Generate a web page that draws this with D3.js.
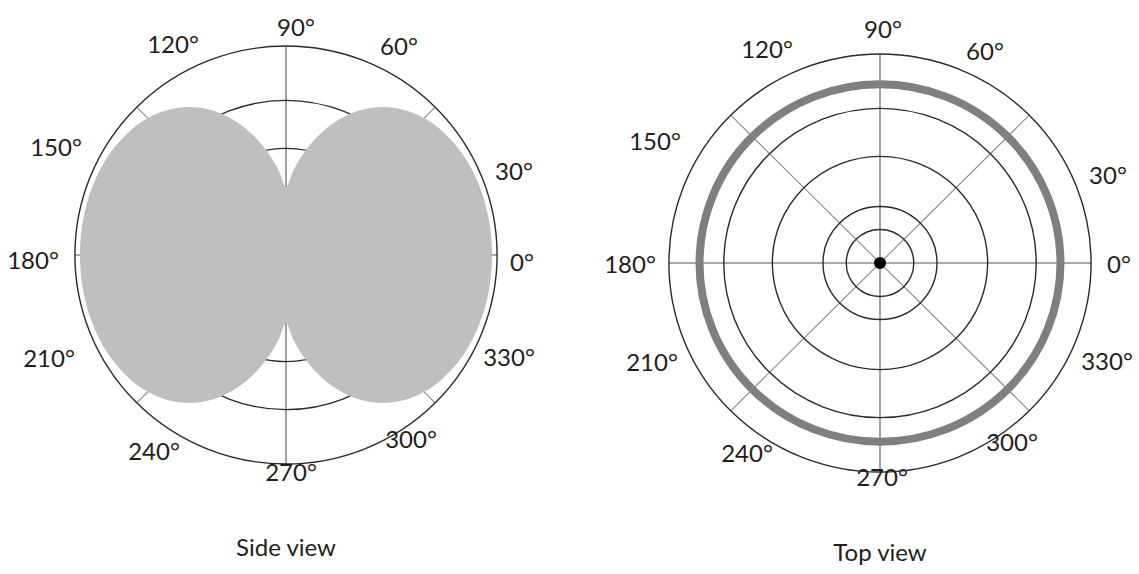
<!DOCTYPE html>
<html>
<head>
<meta charset="utf-8">
<script src="https://cdn.jsdelivr.net/npm/d3@7"></script>
<style>
  html, body { margin: 0; padding: 0; background: #fff; }
  svg { display: block; }
  text { font-family: Lato, "Open Sans", sans-serif; fill: #1e1e1e; }
</style>
</head>
<body>
<svg id="chart" width="1139" height="574"></svg>
<script>
// ---------- DATA ----------
// Side view radiation pattern (angle in degrees, relative gain 0..1)
const sideAngles = [0,10,20,30,40,45,50,55,60,65,70,75,80,85,90,95,100,105,110,115,120,125,130,135,140,150,160,170,
                    180,190,200,210,220,225,230,235,240,245,250,255,260,265,270,275,280,285,290,295,300,305,310,315,320,330,340,350];
const sideGain   = [0.976,0.976,0.974,0.966,0.945,0.926,0.899,0.862,0.813,0.751,0.676,0.591,0.499,0.408,0.326,0.408,0.499,0.591,0.676,0.751,0.813,0.862,0.899,0.926,0.945,0.966,0.974,0.976,
                    0.976,0.976,0.974,0.966,0.945,0.926,0.899,0.862,0.813,0.751,0.676,0.591,0.499,0.408,0.326,0.408,0.499,0.591,0.676,0.751,0.813,0.862,0.899,0.926,0.945,0.966,0.974,0.976];
// Top view: omnidirectional pattern (constant relative gain)
const topViewGain = 0.855;
// Grid
const ringLevels  = [0.16, 0.27, 0.51, 0.74, 1.0];
const spokeAngles = [0, 45, 90, 135];
const tickAngles  = [0, 30, 60, 90, 120, 150, 180, 210, 240, 270, 300, 330];
const tickLabels  = ["0°","30°","60°","90°","120°","150°","180°","210°","240°","270°","300°","330°"];
const chartTitles = ["Side view", "Top view"];

// ---------- LAYOUT ----------
const R = 209, kx = 1.01;
const panels = [
  { cx: 286, cy: 255, titleY: 548,
    labelOffsets: [[236,8],[228,-83],[113,-208],[10,-227],[-113,-210],[-230,-107],[-253,6],[-237,104],[-132,197],[5,218],[125,185],[223,103]] },
  { cx: 880, cy: 263, titleY: 553,
    labelOffsets: [[239,2],[228,-87],[105,-211],[3,-233],[-113,-213],[-225,-121],[-250,2],[-228,100],[-133,191],[2,215],[132,180],[227,99]] }
];

const svg = d3.select("#chart");
const r = d3.scaleLinear().domain([0, 1]).range([0, R]);
const ang = d3.scaleLinear().domain([0, 360]).range([0, 2 * Math.PI]);

function px(p, deg, v) { return p.cx + kx * r(v) * Math.cos(ang(deg)); }
function py(p, deg, v) { return p.cy - r(v) * Math.sin(ang(deg)); }

function drawGrid(g, p, rings) {
  g.selectAll("line.spoke").data(spokeAngles).join("line")
    .attr("class", "spoke")
    .attr("x1", d => px(p, d, 1)).attr("y1", d => py(p, d, 1))
    .attr("x2", d => px(p, d + 180, 1)).attr("y2", d => py(p, d + 180, 1))
    .attr("stroke", d => (d % 90 === 0) ? "#555" : "#8a8a8a")
    .attr("stroke-width", 1.1);
  g.selectAll("ellipse.ring").data(rings).join("ellipse")
    .attr("class", "ring")
    .attr("cx", p.cx).attr("cy", p.cy)
    .attr("rx", d => kx * r(d)).attr("ry", d => r(d))
    .attr("fill", "none")
    .attr("stroke", "#2a2a2a")
    .attr("stroke-width", 1.4);
}

function drawLabels(g, p, i) {
  g.selectAll("text.tick").data(tickAngles).join("text")
    .attr("class", "tick")
    .attr("x", (d, j) => p.cx + p.labelOffsets[j][0])
    .attr("y", (d, j) => p.cy + p.labelOffsets[j][1])
    .attr("dy", "0.35em")
    .attr("text-anchor", "middle")
    .attr("font-size", 24)
    .text((d, j) => tickLabels[j]);
  g.append("text")
    .attr("x", p.cx).attr("y", p.titleY)
    .attr("dy", "0.35em")
    .attr("text-anchor", "middle")
    .attr("font-size", 24)
    .text(chartTitles[i]);
}

// ---------- SIDE VIEW ----------
{
  const p = panels[0];
  const g = svg.append("g");
  drawGrid(g, p, ringLevels);
  const pts = sideAngles.map((a, i) => [px(p, a, sideGain[i]), py(p, a, sideGain[i])]);
  g.append("path")
    .attr("d", d3.line().curve(d3.curveCatmullRomClosed.alpha(0.5))(pts))
    .attr("fill", "#bfbfbf")
    .attr("stroke", "none");
  drawLabels(g, p, 0);
}

// ---------- TOP VIEW ----------
{
  const p = panels[1];
  const g = svg.append("g");
  drawGrid(g, p, ringLevels);
  g.append("ellipse")
    .attr("cx", p.cx).attr("cy", p.cy)
    .attr("rx", kx * r(topViewGain)).attr("ry", r(topViewGain))
    .attr("fill", "none")
    .attr("stroke", "#7f7f7f")
    .attr("stroke-width", 8);
  g.append("circle")
    .attr("cx", p.cx).attr("cy", p.cy).attr("r", 6)
    .attr("fill", "#000");
  drawLabels(g, p, 1);
}
</script>
</body>
</html>
